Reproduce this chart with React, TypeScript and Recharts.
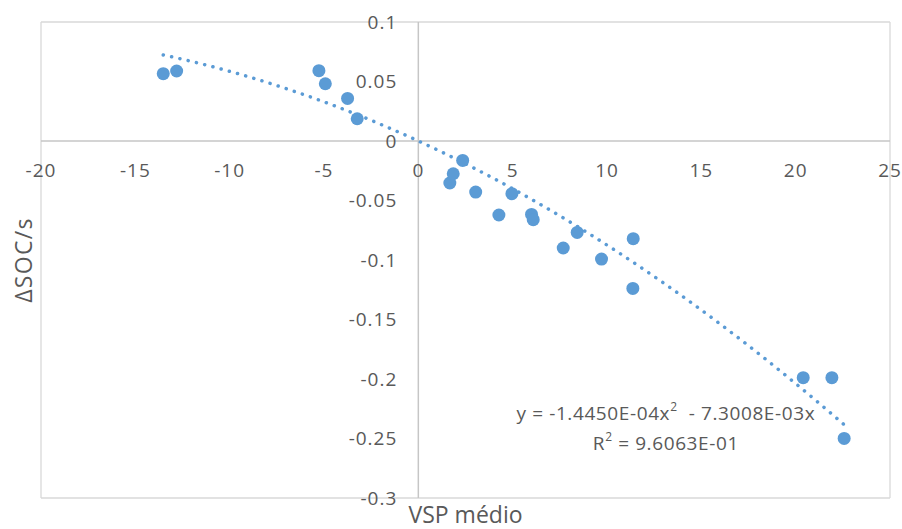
import React from 'react';
import {
  ScatterChart,
  Scatter,
  XAxis,
  YAxis,
  CartesianGrid,
  ReferenceLine,
  ReferenceDot,
} from 'recharts';

// Measured data (VSP médio vs ΔSOC/s)
const vspValues = [
  -13.52, -12.81, -5.27, -4.93, -3.75, -3.24, 1.67, 1.85, 2.35, 3.04, 4.27,
  4.96, 6.0, 6.09, 7.68, 8.42, 9.71, 11.39, 11.37, 20.4, 21.92, 22.57,
];
const socValues = [
  0.0566, 0.0588, 0.0591, 0.0481, 0.0358, 0.0187, -0.0353, -0.0275, -0.0163,
  -0.0429, -0.0622, -0.0443, -0.0617, -0.0661, -0.0899, -0.0768, -0.0992,
  -0.0821, -0.1239, -0.1989, -0.1989, -0.2499,
];

const xTicks = [-20, -15, -10, -5, 0, 5, 10, 15, 20, 25];
const yTicks = [-0.3, -0.25, -0.2, -0.15, -0.1, -0.05, 0, 0.05, 0.1];
const xTickLabels = ['-20', '-15', '-10', '-5', '0', '5', '10', '15', '20', '25'];
const yTickLabels = ['-0.3', '-0.25', '-0.2', '-0.15', '-0.1', '-0.05', '0', '0.05', '0.1'];

// Polynomial trendline (order 2, intercept 0) as printed on the chart
const trendA = -1.445e-4;
const trendB = -7.3008e-3;
const eqLine1a = 'y = -1.4450E-04x';
const eqLine1b = '  - 7.3008E-03x';
const eqLine2a = 'R';
const eqLine2b = ' = 9.6063E-01';

const xTitle = 'VSP médio';
const yTitle = 'ΔSOC/s';

const points = vspValues.map((x, i) => ({ x, y: socValues[i] }));

const xMin = Math.min(...vspValues);
const xMax = Math.max(...vspValues);
const trendData: { x: number; y: number }[] = [];
for (let k = 0; k <= 80; k++) {
  const x = xMin + ((xMax - xMin) * k) / 80;
  trendData.push({ x, y: trendA * x * x + trendB * x });
}

const BLUE = '#5B9BD5';
const TEXT = '#595959';
const FONT = '"Open Sans", "Liberation Sans", sans-serif';
const TICK_SIZE = 19;
const TICK_SPACING = 1;

const EqLabel = (props: any) => {
  const vb = props.viewBox || {};
  const cx = vb.x + (vb.width || 0) / 2;
  const cy = vb.y + (vb.height || 0) / 2;
  const common = {
    textAnchor: 'middle' as const,
    dominantBaseline: 'central' as const,
    fill: TEXT,
    fontSize: TICK_SIZE,
    fontFamily: FONT,
    letterSpacing: 0.6,
    style: { whiteSpace: 'pre' as const },
  };
  return (
    <g>
      <text x={cx} y={cy - 15} {...common}>
        {eqLine1a}
        <tspan dy={-7} fontSize={12}>2</tspan>
        <tspan dy={7}>{eqLine1b}</tspan>
      </text>
      <text x={cx} y={cy + 15} {...common}>
        {eqLine2a}
        <tspan dy={-7} fontSize={12}>2</tspan>
        <tspan dy={7}>{eqLine2b}</tspan>
      </text>
    </g>
  );
};

export default function App() {
  return (
    <div style={{ position: 'absolute', left: 0, top: 0, background: '#fff' }}>
      <ScatterChart
        width={902}
        height={529}
        margin={{ top: 22, right: 12, bottom: 0, left: 0 }}
      >
        <CartesianGrid stroke="#D9D9D9" strokeWidth={1.3} />
        <XAxis
          type="number"
          dataKey="x"
          domain={[-20, 25]}
          ticks={xTicks}
          tick={false}
          axisLine={false}
          tickLine={false}
          height={31}
          allowDataOverflow
          label={{
            value: xTitle,
            position: 'insideBottom',
            offset: 6,
            fill: TEXT,
            fontSize: 23,
            fontFamily: FONT,
          }}
        />
        <YAxis
          type="number"
          dataKey="y"
          domain={[-0.3, 0.1]}
          ticks={yTicks}
          tick={false}
          axisLine={false}
          tickLine={false}
          width={41}
          allowDataOverflow
          label={{
            value: yTitle,
            angle: -90,
            position: 'center',
            dx: 3,
            fill: TEXT,
            fontSize: 23,
            letterSpacing: 1.3,
            fontFamily: FONT,
          }}
        />
        <ReferenceLine x={0} stroke="#C6C6C6" strokeWidth={1.5} />
        <ReferenceLine y={0} stroke="#C6C6C6" strokeWidth={1.5} />
        {xTicks.map((t, i) => (
          <ReferenceDot
            key={'xt' + t}
            x={t}
            y={0}
            r={0}
            fill="none"
            stroke="none"
            label={{
              value: xTickLabels[i],
              position: 'bottom',
              offset: 23,
              fill: TEXT,
              fontSize: TICK_SIZE,
              letterSpacing: TICK_SPACING,
              fontFamily: FONT,
            }}
          />
        ))}
        {yTicks.map((t, i) => (
          <ReferenceDot
            key={'yt' + t}
            x={0}
            y={t}
            r={0}
            fill="none"
            stroke="none"
            label={{
              value: yTickLabels[i],
              position: 'left',
              offset: 21,
              fill: TEXT,
              fontSize: TICK_SIZE,
              letterSpacing: TICK_SPACING,
              fontFamily: FONT,
            }}
          />
        ))}
        <Scatter
          data={points}
          fill={BLUE}
          isAnimationActive={false}
          shape={(p: any) => <circle cx={p.cx} cy={p.cy} r={6.5} fill={BLUE} />}
        />
        <Scatter
          data={trendData}
          isAnimationActive={false}
          line={{
            stroke: BLUE,
            strokeWidth: 3.5,
            strokeDasharray: '0.1 8.4',
            strokeLinecap: 'round',
          }}
          lineType="joint"
          shape={() => <g />}
        />
        <ReferenceDot
          x={13.12}
          y={-0.241}
          r={0}
          fill="none"
          stroke="none"
          label={<EqLabel />}
        />
      </ScatterChart>
    </div>
  );
}
